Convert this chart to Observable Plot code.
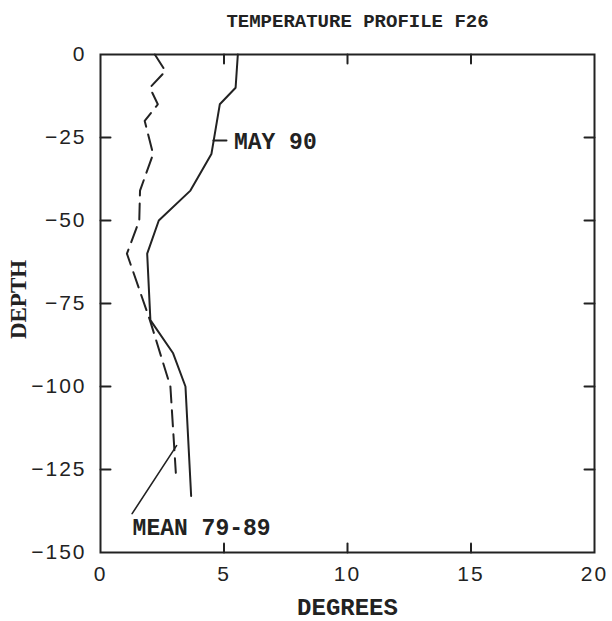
<!DOCTYPE html>
<html>
<head>
<meta charset="utf-8">
<script src="https://cdn.jsdelivr.net/npm/d3@7"></script>
<script src="https://cdn.jsdelivr.net/npm/@observablehq/plot@0.6"></script>
<style>
  html, body { margin: 0; padding: 0; background: #fff; }
  #chart svg { display: block; }
  [aria-label="x-axis tick label"] text, [aria-label="y-axis tick label"] text { letter-spacing: 2px; }
</style>
</head>
<body>
<div id="chart"></div>
<script>
// ---- data ----
const title = "TEMPERATURE PROFILE F26";
const xLabel = "DEGREES";
const yLabel = "DEPTH";

const xTicks = [0, 5, 10, 15, 20];
const yTicks = [0, -25, -50, -75, -100, -125, -150];

// MAY 90 (solid)
const mayDepth = [0, -10, -15, -30, -41, -50, -60, -80, -90, -100, -133];
const mayTemp  = [5.56, 5.47, 4.83, 4.49, 3.64, 2.36, 1.89, 2.02, 2.94, 3.44, 3.67];

// MEAN 79-89 (dashed)
const meanDepth = [0, -5, -10, -15, -20, -30, -41, -50, -60, -80, -100, -126];
const meanTemp  = [2.2, 2.63, 2.0, 2.32, 1.79, 2.13, 1.6, 1.57, 1.07, 2.0, 2.83, 3.05];

// annotation labels
const mayLabel = "MAY 90";
const meanLabel = "MEAN 79-89";

// ---- build ----
const may = mayDepth.map((d, i) => ({d, t: mayTemp[i]}));
const mean = meanDepth.map((d, i) => ({d, t: meanTemp[i]}));

const mayLeader = [{t: 4.57, d: -25.9}, {t: 5.1, d: -25.9}];
const meanLeader = [{t: 3.08, d: -117.8}, {t: 1.28, d: -138.3}];

const inner = (a) => a.slice(1, -1);
const sans = "Liberation Sans, Arial, sans-serif";
const mono = "Liberation Mono, Courier New, monospace";
const serif = "Liberation Serif, Times New Roman, serif";
const ink = "#222";

// a straight tick shape for vectors
const tickShape = {draw(context, l) { context.moveTo(0, 0); context.lineTo(0, -l); }};
const inTick = (data, channel, frameAnchor, rotate, length) =>
  Plot.vector(data, {[channel]: d => d, frameAnchor, rotate, length, anchor: "start", shape: tickShape, stroke: ink, strokeWidth: 2});

const chart = Plot.plot({
  width: 612,
  height: 621,
  marginTop: 54,
  marginBottom: 69,
  marginLeft: 100,
  marginRight: 18,
  x: {domain: [0, 20]},
  y: {domain: [-150, 0]},
  length: {type: "identity"},
  style: {background: "#fff", color: ink},
  marks: [
    // tick labels
    Plot.axisX({anchor: "bottom", ticks: xTicks, tickSize: 0, tickPadding: 14, fontSize: 21, fontFamily: sans, label: null, fill: ink}),
    Plot.axisY({anchor: "left", ticks: yTicks, tickSize: 0, tickPadding: 14, fontSize: 21, fontFamily: sans, label: null, fill: ink}),
    // inward ticks on all four sides
    inTick(inner(xTicks), "x", "bottom", 0, 9),
    inTick(inner(xTicks), "x", "top", 180, 9),
    inTick(inner(yTicks), "y", "left", 90, 10),
    inTick(inner(yTicks), "y", "right", -90, 10),
    Plot.frame({stroke: ink, strokeWidth: 2}),
    // profiles
    Plot.line(may, {x: "t", y: "d", stroke: ink, strokeWidth: 2}),
    Plot.line(mean, {x: "t", y: "d", stroke: ink, strokeWidth: 2, strokeDasharray: "16,8"}),
    // annotations
    Plot.line(mayLeader, {x: "t", y: "d", stroke: ink, strokeWidth: 2}),
    Plot.text([mayLabel], {x: 5.4, y: -26.3, text: d => d, textAnchor: "start", fontSize: 23, fontWeight: "bold", fontFamily: mono, fill: ink}),
    Plot.line(meanLeader, {x: "t", y: "d", stroke: ink, strokeWidth: 1.6}),
    Plot.text([meanLabel], {x: 1.3, y: -142.5, text: d => d, textAnchor: "start", fontSize: 23, fontWeight: "bold", fontFamily: mono, fill: ink}),
    // titles
    Plot.text([title], {frameAnchor: "top", textAnchor: "middle", lineAnchor: "middle", dx: 10, dy: -34, text: d => d, fontSize: 19, fontWeight: "bold", fontFamily: mono, fill: ink}),
    Plot.text([xLabel], {frameAnchor: "bottom", textAnchor: "middle", lineAnchor: "middle", dy: 55, text: d => d, fontSize: 24, fontWeight: "bold", fontFamily: mono, fill: ink}),
    Plot.text([yLabel], {frameAnchor: "left", textAnchor: "middle", lineAnchor: "middle", dx: -82, dy: -4, rotate: -90, text: d => d, fontSize: 23, fontWeight: "bold", fontFamily: serif, fill: ink})
  ]
});
document.getElementById("chart").appendChild(chart);
</script>
</body>
</html>
